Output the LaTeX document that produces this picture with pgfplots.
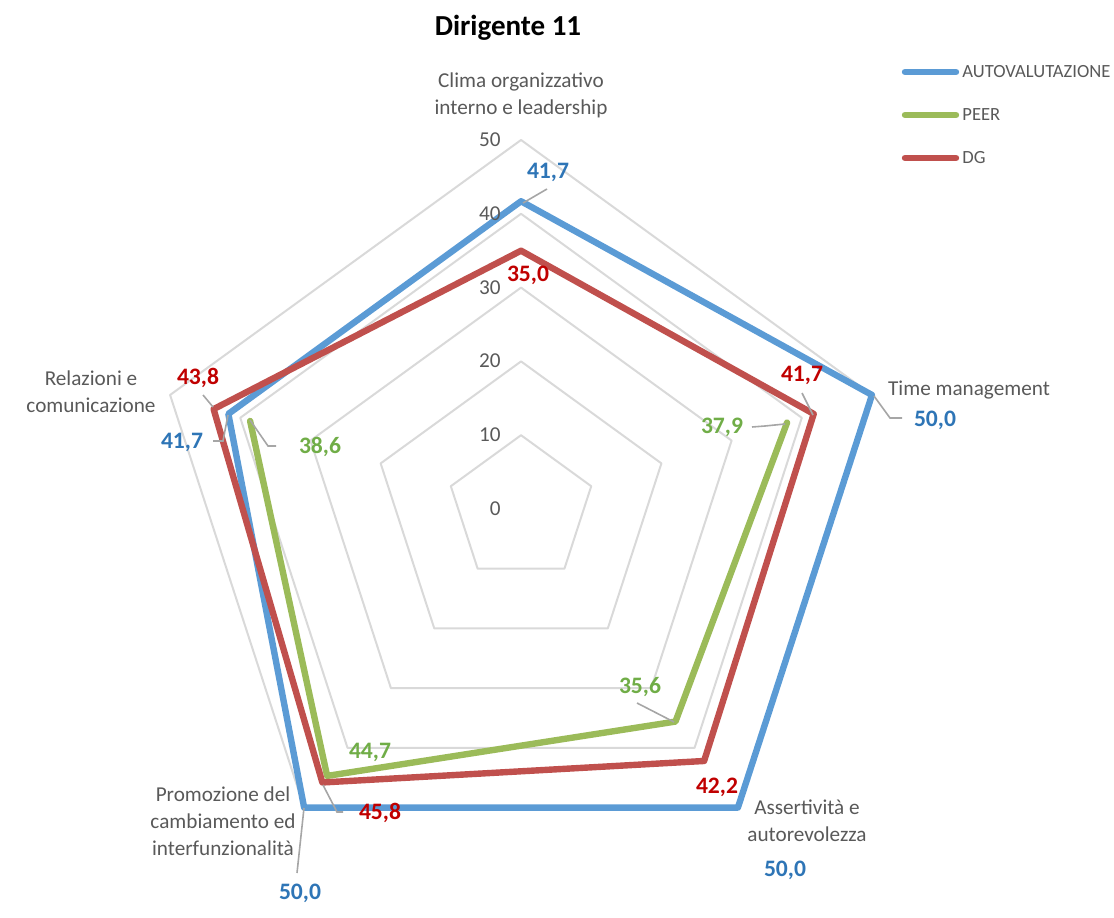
\documentclass[border=0pt]{standalone}
\usepackage{fontspec}
\setmainfont{Carlito}
\usepackage{pgfplots}
\pgfplotsset{compat=1.18}
\definecolor{cblue}{HTML}{5B9BD5}
\definecolor{cgreen}{HTML}{9BBB59}
\definecolor{cred}{HTML}{C0504D}
\definecolor{tblue}{HTML}{2E75B6}
\definecolor{tgreen}{HTML}{70AD47}
\definecolor{tred}{HTML}{C00000}
\definecolor{tgray}{HTML}{595959}
\definecolor{ggray}{HTML}{D9D9D9}
\definecolor{lgray}{HTML}{A6A6A6}
\begin{document}
\begin{tikzpicture}
\begin{axis}[scale only axis, width=557pt, height=458.5pt,
  xmin=-70.60, xmax=80.35, ymin=-55.28, ymax=68.97,
  hide axis, clip=false, data cs=polar]
% pentagonal grid
\addplot[ggray, line width=1pt, line join=round, line cap=round] coordinates {(90,10)(18,10)(-54,10)(-126,10)(162,10)(90,10)};
\addplot[ggray, line width=1pt, line join=round, line cap=round] coordinates {(90,20)(18,20)(-54,20)(-126,20)(162,20)(90,20)};
\addplot[ggray, line width=1pt, line join=round, line cap=round] coordinates {(90,30)(18,30)(-54,30)(-126,30)(162,30)(90,30)};
\addplot[ggray, line width=1pt, line join=round, line cap=round] coordinates {(90,40)(18,40)(-54,40)(-126,40)(162,40)(90,40)};
\addplot[ggray, line width=1pt, line join=round, line cap=round] coordinates {(90,50)(18,50)(-54,50)(-126,50)(162,50)(90,50)};
% AUTOVALUTAZIONE
\addplot[cblue, line width=3.2pt, line join=round, line cap=round] coordinates {(90,41.7)(18,50.0)(-54,50.0)(-126,50.0)(162,41.7)(90,41.7)};
% PEER (Clima missing)
\addplot[cgreen, line width=3.2pt, line join=round, line cap=round] coordinates {(18,37.9)(-54,35.6)(-126,44.7)(162,38.6)};
% DG
\addplot[cred, line width=3.2pt, line join=round, line cap=round] coordinates {(90,35.0)(18,41.7)(-54,42.2)(-126,45.8)(162,43.8)(90,35.0)};
\end{axis}
\begin{scope}[x=0.5pt, y=-0.5pt, shift={(0pt,458.5pt)}]
\path (0,0) rectangle (1114,917);
\node[font=\bfseries\fontsize{14.5}{17}\selectfont] at (508,28) {Dirigente 11};
% category labels
\begin{scope}[every node/.style={text=tgray, font=\fontsize{10.6}{13.5}\selectfont, inner sep=0pt}]
\node[align=center] at (521,95) {Clima organizzativo\\interno e leadership};
\node at (969,390) {Time management};
\node[align=center] at (807,821) {Assertività e\\autorevolezza};
\node[align=center] at (223,821) {Promozione del\\cambiamento ed\\interfunzionalità};
\node[align=center] at (91,392) {Relazioni e\\comunicazione};
\node[anchor=east] at (501,140) {50};
\node[anchor=east] at (501,214) {40};
\node[anchor=east] at (501,288) {30};
\node[anchor=east] at (501,361) {20};
\node[anchor=east] at (501,435) {10};
\node[anchor=east] at (501,509) {0};
\end{scope}
% leader lines
\begin{scope}[lgray, line width=0.8pt]
\draw (547,189)--(523,203);
\draw (802,393)--(813,415);
\draw (874,396)--(890,418)--(902,418);
\draw (752,427)--(765,426)--(785,424);
\draw (213,441)--(223,441)--(228,415);
\draw (203,395)--(213,407);
\draw (276,446)--(268,446)--(250,420);
\draw (343,812)--(337,812)--(323,785);
\draw (297,873)--(304,808);
\draw (637,703)--(674,722);
\end{scope}
% data labels
\begin{scope}[every node/.style={font=\bfseries\fontsize{11.8}{14}\selectfont, inner sep=0pt}]
\node[text=tblue] at (548,172) {41,7};
\node[text=tblue] at (935,420) {50,0};
\node[text=tblue] at (785,870) {50,0};
\node[text=tblue] at (300,893) {50,0};
\node[text=tblue] at (182,442) {41,7};
\node[text=tred] at (528,275) {35,0};
\node[text=tred] at (802,375) {41,7};
\node[text=tred] at (717,787) {42,2};
\node[text=tred] at (380,813) {45,8};
\node[text=tred] at (198,378) {43,8};
\node[text=tgreen] at (722,427) {37,9};
\node[text=tgreen] at (640,687) {35,6};
\node[text=tgreen] at (370,752) {44,7};
\node[text=tgreen] at (320,447) {38,6};
\end{scope}
% legend
\draw[cblue, line width=3.2pt, line cap=round] (905,72)--(956,72);
\draw[cgreen, line width=3.2pt, line cap=round] (905,115)--(956,115);
\draw[cred, line width=3.2pt, line cap=round] (905,158)--(956,158);
\begin{scope}[every node/.style={text=tgray, font=\fontsize{9.3}{11}\selectfont, inner sep=0pt, anchor=west}]
\node at (962,72) {AUTOVALUTAZIONE};
\node at (962,115) {PEER};
\node at (962,158) {DG};
\end{scope}
\end{scope}
\end{tikzpicture}
\end{document}
